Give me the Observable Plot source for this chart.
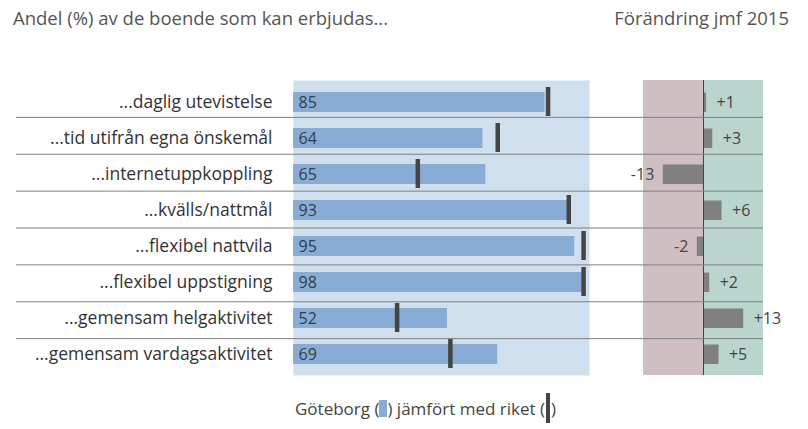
<!DOCTYPE html>
<html><head><meta charset="utf-8">
<script src="https://cdn.jsdelivr.net/npm/d3@7"></script>
<script src="https://cdn.jsdelivr.net/npm/@observablehq/plot@0.6"></script>
<style>
body{margin:0;background:#fff;font-family:"Open Sans",sans-serif;}
#wrap{position:relative;width:808px;height:429px;overflow:hidden;}
#wrap svg{position:absolute;left:0;top:0;}
.title{position:absolute;top:5px;font-size:18.5px;color:#555;white-space:nowrap;}
#legend{position:absolute;top:397px;left:295px;font-size:17px;color:#444;white-space:nowrap;line-height:23px;}
.sw{display:inline-block;vertical-align:middle;}
</style></head>
<body>
<div id="wrap">
  <div class="title" style="left:13px">Andel (%) av de boende som kan erbjudas...</div>
  <div class="title" style="right:19px">Förändring jmf 2015</div>
  <div id="legend">Göteborg (<span class="sw" style="width:8px;height:17px;background:#88acd4;margin:-4px 0 0 0"></span>) jämfört med riket (<span class="sw" style="width:4px;height:30px;background:#444;margin:-10px 1px -6px 1px"></span>)</div>
</div>
<script>
const categories = ["...daglig utevistelse", "...tid utifrån egna önskemål", "...internetuppkoppling", "...kvälls/nattmål", "...flexibel nattvila", "...flexibel uppstigning", "...gemensam helgaktivitet", "...gemensam vardagsaktivitet"];
const goteborg = [85, 64, 65, 93, 95, 98, 52, 69];
const riket = [86, 69, 42, 93, 98, 98, 35, 53];
const change = [1, 3, -13, 6, -2, 2, 13, 5];

const rows = categories.map((c, i) => ({category: c, gbg: goteborg[i], riket: riket[i], change: change[i]}));
const W = 808, H = 429, MT = 80, MB = 54;
const chgDomain = [-19.4, 19.4];
const fmt = v => (v > 0 ? "+" : "") + v;
const style = {fontFamily: "Open Sans, sans-serif", background: "transparent", overflow: "visible"};

const main = Plot.plot({
  width: W, height: H, marginLeft: 293, marginRight: 219, marginTop: MT, marginBottom: MB,
  style,
  x: {domain: [0, 100], axis: null},
  y: {domain: categories, padding: 0, axis: null},
  marks: [
    Plot.frame({fill: "#d0dfee", stroke: null}),
    Plot.barX(rows, {x: "gbg", y: "category", fill: "#88acd4", insetTop: 8, insetBottom: 8}),
    Plot.tickX(rows, {x: "riket", y: "category", stroke: "#454545", strokeWidth: 4.5, insetTop: 3, insetBottom: 4}),
    Plot.text(rows, {x: 0, y: "category", text: d => String(d.gbg), textAnchor: "start", dx: 5, fontSize: 16, fill: "#333d4a"}),
    Plot.text(rows, {x: 0, y: "category", text: "category", textAnchor: "end", dx: -21, fontSize: 17.5, fill: "#333"})
  ]
});

const chg = Plot.plot({
  width: W, height: H, marginLeft: 643, marginRight: 45, marginTop: MT, marginBottom: MB,
  style,
  x: {domain: chgDomain, axis: null},
  y: {domain: categories, padding: 0, axis: null},
  marks: [
    Plot.rect([0], {x1: chgDomain[0], x2: 0, fill: "#cfbfc3"}),
    Plot.rect([0], {x1: 0, x2: chgDomain[1], fill: "#bad5ce"}),
    Plot.barX(rows, {x: "change", y: "category", fill: "#808080", insetTop: 8.5, insetBottom: 8}),
    Plot.ruleX([0], {stroke: "#444"}),
    Plot.text(rows.filter(d => d.change > 0), {x: "change", y: "category", text: d => fmt(d.change), textAnchor: "start", dx: 10, fontSize: 16, fill: "#444"}),
    Plot.text(rows.filter(d => d.change < 0), {x: "change", y: "category", text: d => fmt(d.change), textAnchor: "end", dx: -9, fontSize: 16, fill: "#444"})
  ]
});

const lines = Plot.plot({
  width: W, height: H, marginLeft: 16, marginRight: 45, marginTop: MT, marginBottom: MB,
  style,
  x: {domain: [0, 1], axis: null},
  y: {domain: [0, categories.length], axis: null},
  marks: [
    Plot.ruleY(d3.range(1, categories.length), {stroke: "#7f7f7f"})
  ]
});

const wrap = document.getElementById("wrap");
wrap.insertBefore(main, wrap.firstChild);
wrap.insertBefore(chg, main.nextSibling);
wrap.insertBefore(lines, chg.nextSibling);
</script>
</body></html>
